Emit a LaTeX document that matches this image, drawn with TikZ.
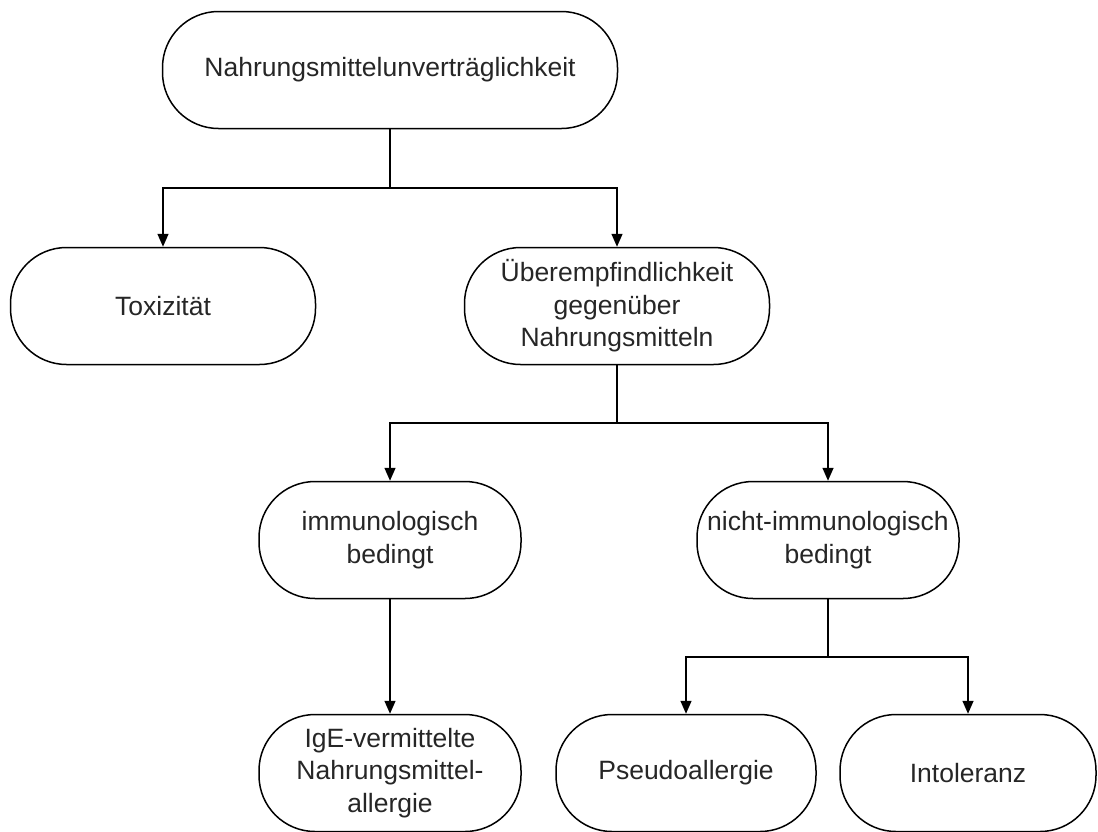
\documentclass[tikz,border=0pt]{standalone}
\usepackage{fontspec}
\setmainfont{Liberation Sans}
\usetikzlibrary{arrows.meta}

\tikzset{
  term/.style={draw,line width=1.5pt,rounded corners=56pt,minimum height=117pt,
    align=center,font=\fontsize{26.5}{32.5}\selectfont,text=black!85,inner sep=0pt},
  arr/.style={line width=1.5pt,-{Triangle[width=11pt,length=13pt]}},
  lin/.style={line width=1.5pt}
}

\begin{document}
\begin{tikzpicture}[x=1pt,y=-1pt]

% Fix the page
\useasboundingbox (0,0) rectangle (1098,831);

% Draw the nodes
\node[term,minimum width=455pt] (top) at (390,70) {Nahrungsmittelunverträglichkeit};
\node[term,minimum width=305pt] (tox) at (163,306) {Toxizität};
\node[term,minimum width=305pt] (ueber) at (617,306) {Überempfindlichkeit\\gegenüber\\Nahrungsmitteln};
\node[term,minimum width=262pt] (immun) at (390,540) {immunologisch\\bedingt};
\node[term,minimum width=262pt] (nicht) at (828,540) {nicht-immunologisch\\bedingt};
\node[term,minimum width=262pt] (ige) at (390,773) {IgE-vermittelte\\Nahrungsmittel-\\allergie};
\node[term,minimum width=260pt] (pseudo) at (686,773) {Pseudoallergie};
\node[term,minimum width=256pt] (intol) at (968,773) {Intoleranz};

% Branch points
\coordinate (j1) at (390,188);
\coordinate (j2) at (617,423);
\coordinate (j3) at (828,657);

% Draw the connectors
\draw[lin] (top.south) -- (j1);
\draw[arr] (j1) -| (tox.north);
\draw[arr] (j1) -| (ueber.north);

\draw[lin] (ueber.south) -- (j2);
\draw[arr] (j2) -| (immun.north);
\draw[arr] (j2) -| (nicht.north);

\draw[arr] (immun.south) -- (ige.north);

\draw[lin] (nicht.south) -- (j3);
\draw[arr] (j3) -| (pseudo.north);
\draw[arr] (j3) -| (intol.north);

\end{tikzpicture}
\end{document}
